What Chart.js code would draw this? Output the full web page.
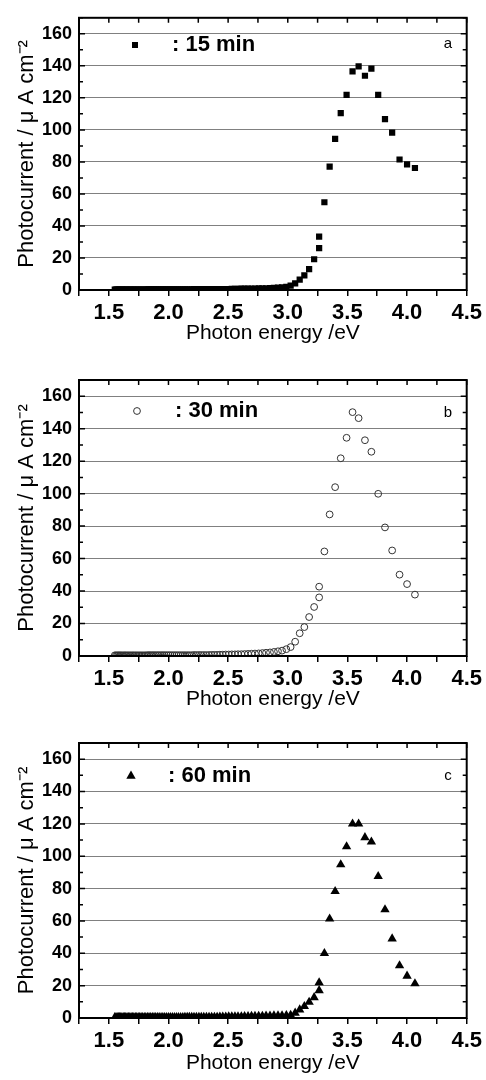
<!DOCTYPE html>
<html>
<head>
<meta charset="utf-8">
<script src="https://cdn.jsdelivr.net/npm/chart.js@4/dist/chart.umd.min.js"></script>
<style>
  body { margin: 0; background: #fff; }
  canvas { position: absolute; left: 0; }
</style>
</head>
<body>
<canvas id="panelA" width="486" height="355" style="top:0px"></canvas>
<canvas id="panelB" width="486" height="360" style="top:360px"></canvas>
<canvas id="panelC" width="486" height="360" style="top:720px"></canvas>
<script>
// Photon energy (eV), same for all three panels (380 nm point measured twice)
const energies = [
  1.550, 1.560, 1.570, 1.580, 1.590, 1.600, 1.610, 1.621, 1.632, 1.642,
  1.653, 1.664, 1.676, 1.687, 1.699, 1.710, 1.722, 1.734, 1.746, 1.759,
  1.771, 1.784, 1.797, 1.810, 1.824, 1.837, 1.851, 1.865, 1.879, 1.893,
  1.908, 1.922, 1.938, 1.953, 1.968, 1.984, 2.000, 2.016, 2.033, 2.050,
  2.067, 2.084, 2.102, 2.120, 2.138, 2.157, 2.175, 2.195, 2.214, 2.234,
  2.255, 2.275, 2.296, 2.318, 2.340, 2.362, 2.385, 2.408, 2.431, 2.455,
  2.480, 2.505, 2.531, 2.557, 2.583, 2.611, 2.638, 2.667, 2.696, 2.725,
  2.756, 2.787, 2.818, 2.851, 2.884, 2.918, 2.952, 2.988,
  3.024, 3.062, 3.100, 3.139, 3.179, 3.221, 3.263, 3.263, 3.307, 3.351,
  3.397, 3.444, 3.493, 3.543, 3.594, 3.647, 3.701, 3.758, 3.815, 3.875,
  3.937, 4.000, 4.066
];

// Photocurrent (uA cm-2) for each anodizing time
const current15 = [
  0.3, 0.3, 0.3, 0.3, 0.3, 0.3, 0.3, 0.3, 0.3, 0.3,
  0.3, 0.3, 0.3, 0.3, 0.3, 0.3, 0.3, 0.3, 0.3, 0.3,
  0.3, 0.3, 0.3, 0.3, 0.4, 0.4, 0.4, 0.4, 0.4, 0.4,
  0.4, 0.4, 0.4, 0.4, 0.4, 0.4, 0.4, 0.4, 0.4, 0.4,
  0.4, 0.4, 0.4, 0.4, 0.4, 0.4, 0.4, 0.4, 0.5, 0.5,
  0.5, 0.5, 0.5, 0.5, 0.5, 0.5, 0.5, 0.5, 0.5, 0.5,
  0.6, 0.6, 0.7, 0.7, 0.7, 0.8, 0.8, 0.8, 0.9, 0.9,
  1.0, 1.0, 1.1, 1.2, 1.3, 1.5, 1.7, 2.0,
  2.7, 4.1, 6.5, 9.2, 13.0, 19.2, 26.2, 33.3, 54.8, 77.0,
  94.4, 110.5, 121.8, 136.5, 139.6, 133.8, 138.3, 121.8, 106.7, 98.3,
  81.5, 78.5, 76.2
];
const current30 = [
  0.4, 0.4, 0.4, 0.4, 0.4, 0.4, 0.4, 0.4, 0.4, 0.4,
  0.4, 0.4, 0.4, 0.4, 0.4, 0.4, 0.4, 0.4, 0.4, 0.4,
  0.4, 0.4, 0.4, 0.4, 0.5, 0.5, 0.5, 0.5, 0.5, 0.5,
  0.5, 0.5, 0.5, 0.5, 0.5, 0.5, 0.5, 0.5, 0.5, 0.5,
  0.5, 0.5, 0.5, 0.5, 0.5, 0.5, 0.5, 0.5, 0.6, 0.6,
  0.6, 0.6, 0.6, 0.6, 0.6, 0.7, 0.7, 0.7, 0.8, 0.8,
  0.9, 0.9, 1.0, 1.0, 1.1, 1.1, 1.2, 1.3, 1.4, 1.5,
  1.6, 1.8, 2.0, 2.2, 2.5, 2.9, 3.3, 4.2,
  5.5, 8.8, 14.0, 17.8, 24.0, 30.2, 42.7, 36.1, 64.4, 87.2,
  104.0, 121.8, 134.4, 150.2, 146.5, 132.9, 125.8, 99.9, 79.2, 65.0,
  50.1, 44.3, 37.8
];
const current60 = [
  0.3, 0.3, 0.3, 0.3, 0.3, 0.3, 0.3, 0.3, 0.3, 0.3,
  0.3, 0.3, 0.3, 0.3, 0.3, 0.3, 0.3, 0.3, 0.3, 0.3,
  0.3, 0.3, 0.3, 0.3, 0.4, 0.4, 0.4, 0.4, 0.4, 0.4,
  0.4, 0.4, 0.4, 0.4, 0.4, 0.4, 0.4, 0.4, 0.4, 0.4,
  0.4, 0.4, 0.4, 0.4, 0.5, 0.5, 0.5, 0.5, 0.5, 0.5,
  0.5, 0.5, 0.5, 0.5, 0.6, 0.6, 0.6, 0.6, 0.7, 0.7,
  0.7, 0.8, 0.8, 0.8, 0.9, 0.9, 1.0, 1.0, 1.1, 1.1,
  1.2, 1.2, 1.3, 1.3, 1.4, 1.4, 1.5, 1.6,
  1.8, 3.1, 5.1, 7.2, 9.8, 12.7, 21.9, 17.0, 40.0, 61.3,
  78.3, 94.8, 106.0, 120.0, 120.0, 111.6, 108.9, 87.6, 67.0, 49.0,
  32.4, 26.0, 21.3
];

const seriesLabels = [': 15 min', ': 30 min', ': 60 min'];
const panelLetters = ['a', 'b', 'c'];

const FONT = "'Liberation Sans', Arial, sans-serif";

// frame, inward ticks on top/left/right, in-plot legend and panel letter
const framePlugin = {
  id: 'frame',
  afterDraw(chart, args, opts) {
    const ctx = chart.ctx;
    const a = chart.chartArea;
    const x = chart.scales.x, y = chart.scales.y;
    ctx.save();
    ctx.strokeStyle = '#000';
    ctx.lineWidth = 1.5;
    ctx.beginPath();
    x.ticks.forEach(t => {
      const px = x.getPixelForValue(t.value);
      ctx.moveTo(px, a.top);
      ctx.lineTo(px, a.top + 5);
    });
    y.ticks.forEach(t => {
      const py = y.getPixelForValue(t.value);
      const len = t.value % 20 === 0 ? 6 : 4;
      ctx.moveTo(a.left, py);
      ctx.lineTo(a.left + len, py);
      ctx.moveTo(a.right, py);
      ctx.lineTo(a.right - len, py);
    });
    ctx.stroke();
    ctx.lineWidth = 2;
    ctx.strokeRect(a.left, a.top, a.right - a.left, a.bottom - a.top);

    // legend marker
    const mx = opts.markerX, my = opts.legendY;
    ctx.fillStyle = '#000';
    ctx.strokeStyle = '#333';
    ctx.lineWidth = 1;
    if (opts.marker === 'rect') {
      ctx.fillRect(mx - 3, my - 3, 6, 6);
    } else if (opts.marker === 'circle') {
      ctx.beginPath();
      ctx.arc(mx, my, 3.4, 0, Math.PI * 2);
      ctx.stroke();
    } else {
      ctx.beginPath();
      ctx.moveTo(mx, my - 5.4);
      ctx.lineTo(mx + 4.7, my + 2.7);
      ctx.lineTo(mx - 4.7, my + 2.7);
      ctx.closePath();
      ctx.fill();
    }
    ctx.fillStyle = '#000';
    ctx.textBaseline = 'middle';
    ctx.textAlign = 'left';
    ctx.font = 'bold 22px ' + FONT;
    ctx.fillText(opts.label, opts.textX, opts.legendY);
    ctx.font = '15px ' + FONT;
    ctx.textAlign = 'center';
    ctx.fillText(opts.letter, 448, opts.letterY);
    ctx.restore();
  }
};

function makePanel(canvasId, values, idx, layout) {
  const points = energies.map((e, i) => ({ x: e, y: values[i] }));
  const ctx = document.getElementById(canvasId).getContext('2d');
  return new Chart(ctx, {
    type: 'scatter',
    data: {
      datasets: [{
        data: points,
        pointStyle: layout.marker,
        pointRadius: layout.radius,
        pointBorderWidth: layout.marker === 'circle' ? 1 : 0,
        pointBackgroundColor: layout.marker === 'circle' ? 'rgba(0,0,0,0)' : '#000',
        pointBorderColor: layout.marker === 'circle' ? '#333' : '#000',
        showLine: false
      }]
    },
    options: {
      responsive: false,
      animation: false,
      layout: { padding: { top: layout.padTop, right: 19, left: 0, bottom: 0 } },
      scales: {
        x: {
          type: 'linear',
          min: 1.25,
          max: 4.5,
          afterFit: s => { s.height = layout.xHeight; },
          border: { display: false },
          grid: { drawOnChartArea: false, tickLength: 6, color: '#000', lineWidth: 1.5 },
          ticks: {
            stepSize: 0.25,
            autoSkip: false,
            maxRotation: 0,
            padding: 4,
            color: '#000',
            font: { family: FONT, size: 22, weight: 'bold' },
            callback: v => Math.abs(v * 2 - Math.round(v * 2)) < 1e-6 ? v.toFixed(1) : ''
          },
          title: {
            display: true,
            text: 'Photon energy /eV',
            color: '#000',
            font: { family: FONT, size: 21 },
            padding: { top: 0, bottom: layout.titlePad }
          }
        },
        y: {
          min: 0,
          max: 170,
          afterFit: s => { s.width = 79; },
          border: { display: false },
          grid: {
            drawTicks: false,
            lineWidth: 1,
            color: c => (c.tick && c.tick.value % 20 === 0 && c.tick.value > 0 && c.tick.value < 170) ? '#808080' : 'rgba(0,0,0,0)'
          },
          ticks: {
            stepSize: 10,
            autoSkip: false,
            padding: 7,
            color: '#000',
            font: { family: FONT, size: 18, weight: 'bold' },
            callback: v => (v % 20 === 0 && v <= 160) ? v : ''
          },
          title: {
            display: true,
            text: 'Photocurrent / μ A cm⁻²',
            color: '#000',
            font: { family: FONT, size: 22 },
            padding: { top: 14, bottom: 0 }
          }
        }
      },
      plugins: {
        legend: { display: false },
        tooltip: { enabled: false },
        frame: {
          marker: layout.marker,
          markerX: layout.markerX,
          textX: layout.textX,
          legendY: layout.legendY,
          letterY: layout.letterY,
          label: seriesLabels[idx],
          letter: panelLetters[idx]
        }
      }
    },
    plugins: [framePlugin]
  });
}

makePanel('panelA', current15, 0, {
  marker: 'rect', radius: 4.4, padTop: 13, xHeight: 65, titlePad: 9,
  markerX: 135, textX: 172, legendY: 45, letterY: 44
});
makePanel('panelB', current30, 1, {
  marker: 'circle', radius: 3.4, padTop: 20, xHeight: 64, titlePad: 8,
  markerX: 137, textX: 175, legendY: 51, letterY: 53
});
makePanel('panelC', current60, 2, {
  marker: 'triangle', radius: 5.4, padTop: 23, xHeight: 62, titlePad: 4,
  markerX: 131, textX: 168, legendY: 56, letterY: 56
});
</script>
</body>
</html>
